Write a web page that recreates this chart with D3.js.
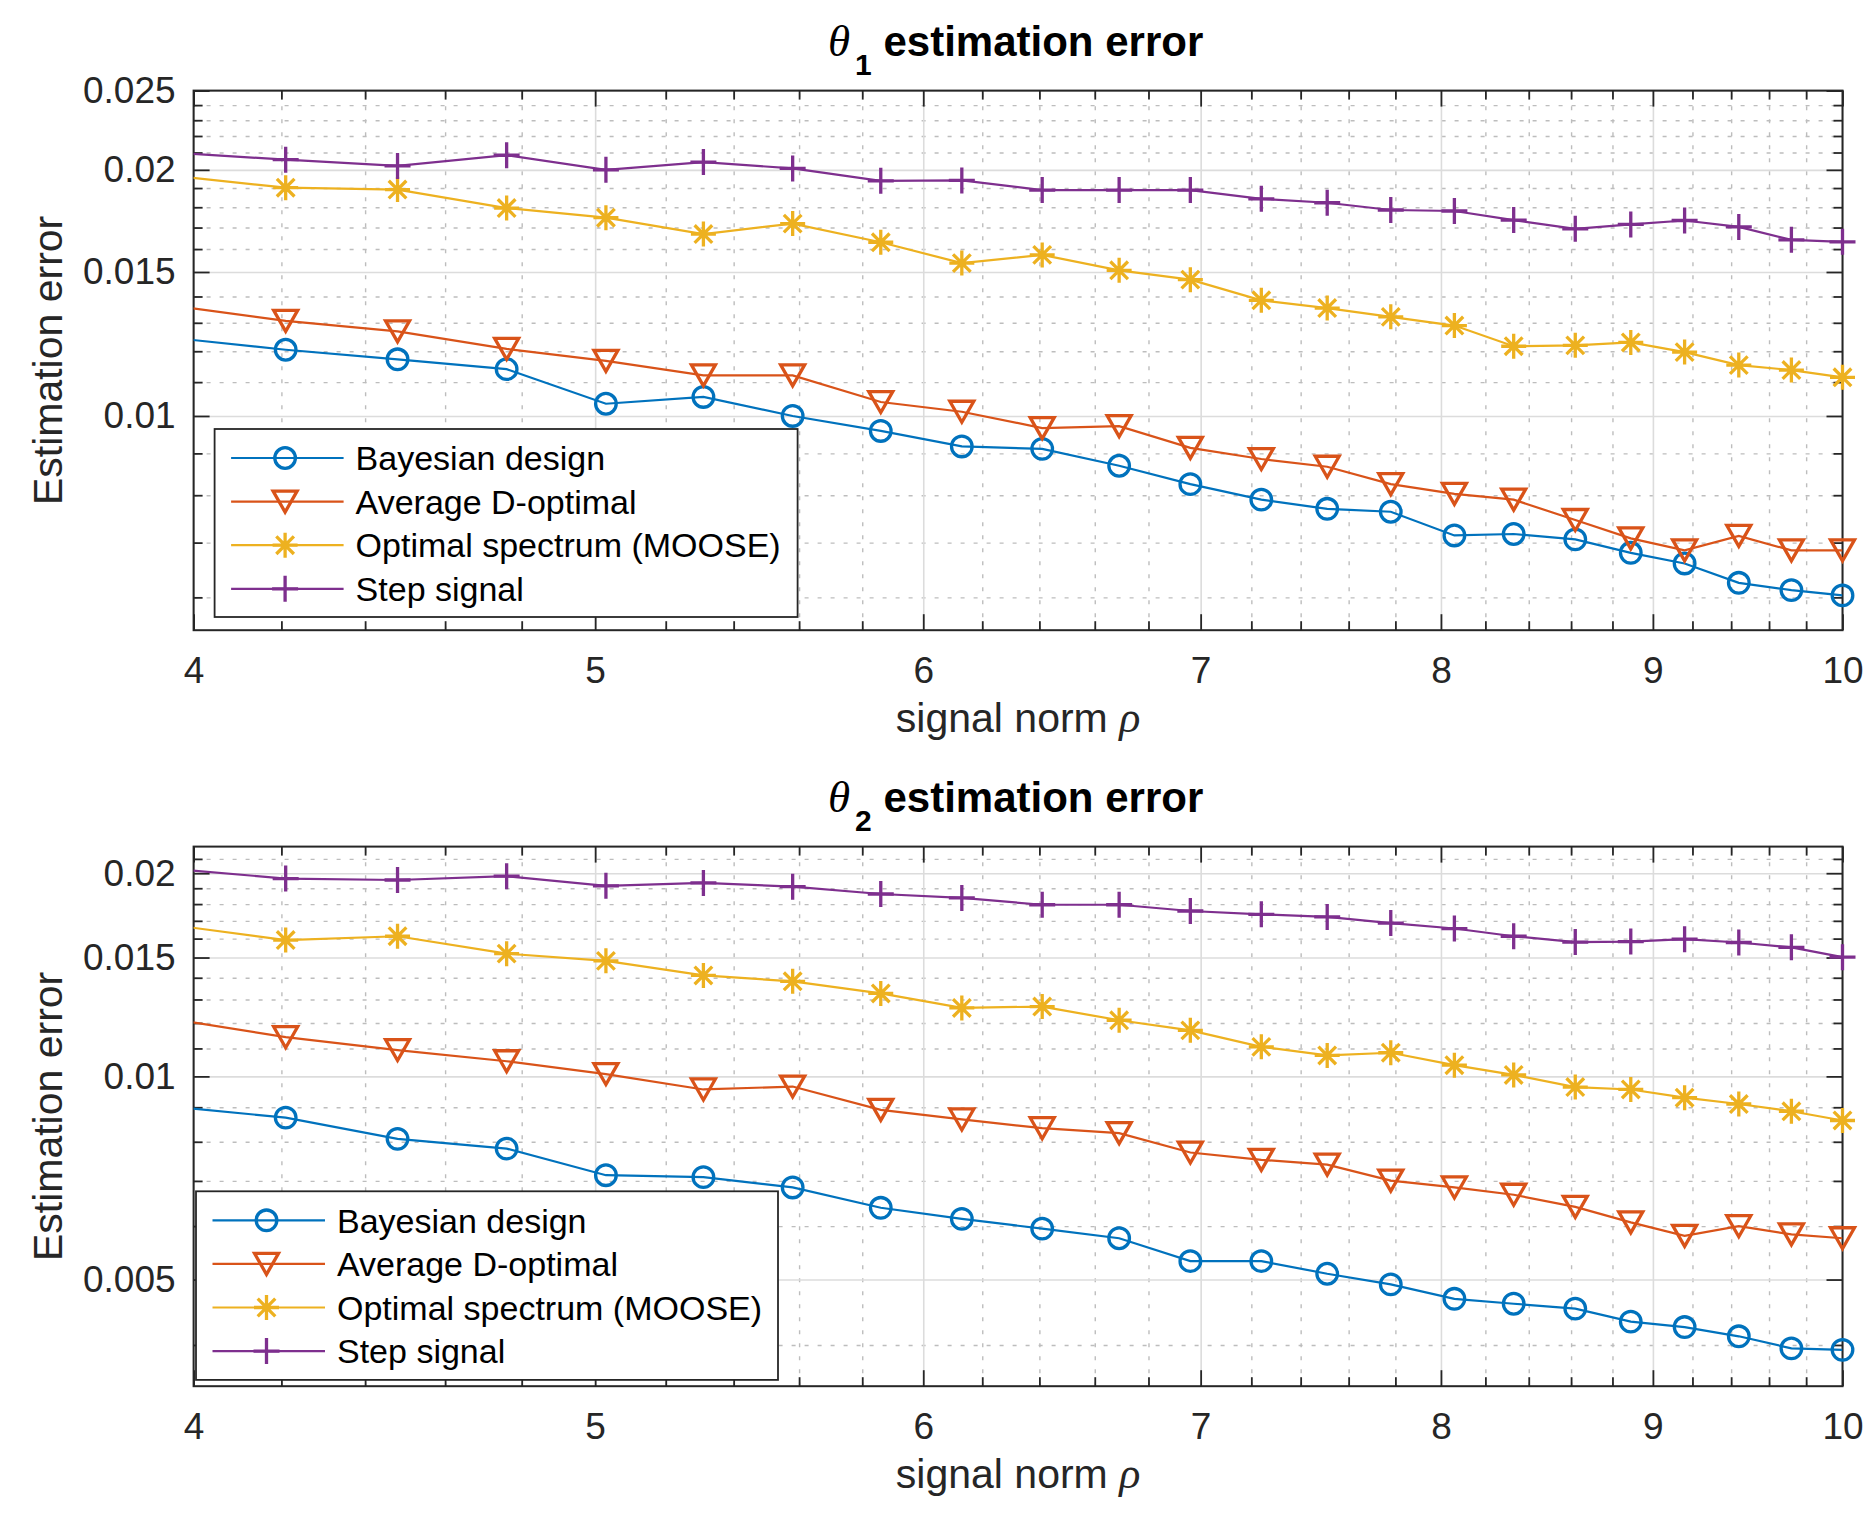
<!DOCTYPE html>
<html>
<head>
<meta charset="utf-8">
<script src="https://cdn.jsdelivr.net/npm/d3@7"></script>
<style>
  body { margin: 0; background: #ffffff; }
  svg text { font-family: "Liberation Sans", Arial, sans-serif; fill: #262626; }
</style>
</head>
<body>
<div id="chart"></div>
<script>
// signal norm values (first one sits just left of the axis and is clipped)
const rho = [3.93, 4.21, 4.48, 4.76, 5.03, 5.31, 5.58, 5.86, 6.13, 6.41, 6.69, 6.96,
             7.24, 7.51, 7.78, 8.06, 8.33, 8.62, 8.89, 9.16, 9.44, 9.72, 10.0];

const seriesNames = ["Bayesian design", "Average D-optimal", "Optimal spectrum (MOOSE)", "Step signal"];

// theta_1 estimation error
const theta1Bayes = [0.01250, 0.01205, 0.01173, 0.01141, 0.01035, 0.01055, 0.01000, 0.009587, 0.009178, 0.009116, 0.008692, 0.008253,
                     0.007900, 0.007699, 0.007636, 0.007143, 0.007172, 0.007065, 0.006802, 0.006601, 0.006251, 0.006124, 0.006033];
const theta1DOpt = [0.01370, 0.01307, 0.01269, 0.01208, 0.01168, 0.01121, 0.01121, 0.01040, 0.01012, 0.009665, 0.009718, 0.009140,
                    0.008858, 0.008667, 0.008253, 0.008029, 0.007900, 0.007460, 0.007085, 0.006848, 0.007133, 0.006848, 0.006848];
const theta1Moose = [0.01973, 0.01902, 0.01892, 0.01796, 0.01748, 0.01669, 0.01719, 0.01631, 0.01538, 0.01574, 0.01507, 0.01468,
                     0.01385, 0.01355, 0.01322, 0.01290, 0.01217, 0.01220, 0.01230, 0.01197, 0.01154, 0.01138, 0.01115];
const theta1Step = [0.02103, 0.02058, 0.02022, 0.02084, 0.02000, 0.02044, 0.02008, 0.01939, 0.01941, 0.01889, 0.01889, 0.01889,
                    0.01843, 0.01823, 0.01786, 0.01781, 0.01736, 0.01694, 0.01715, 0.01734, 0.01703, 0.01642, 0.01633];

// theta_2 estimation error
const theta2Bayes = [0.009047, 0.008688, 0.008081, 0.007816, 0.007138, 0.007091, 0.006846, 0.006387, 0.006149, 0.005948, 0.005757, 0.005324,
                     0.005324, 0.005100, 0.004918, 0.004682, 0.004604, 0.004528, 0.004331, 0.004252, 0.004120, 0.003954, 0.003934];
const theta2DOpt = [0.01223, 0.01143, 0.01094, 0.01053, 0.01008, 0.009563, 0.009659, 0.008922, 0.008633, 0.008379, 0.008240, 0.007712,
                    0.007523, 0.007401, 0.007006, 0.006846, 0.006678, 0.006408, 0.006078, 0.005804, 0.005998, 0.005833, 0.005757];
const theta2Moose = [0.01684, 0.01592, 0.01613, 0.01520, 0.01483, 0.01411, 0.01383, 0.01327, 0.01263, 0.01269, 0.01211, 0.01170,
                     0.01106, 0.01074, 0.01084, 0.01039, 0.01005, 0.009643, 0.009563, 0.009298, 0.009100, 0.008878, 0.008603];
const theta2Step = [0.02036, 0.01964, 0.01954, 0.01980, 0.01916, 0.01935, 0.01910, 0.01863, 0.01838, 0.01796, 0.01796, 0.01758,
                    0.01738, 0.01723, 0.01687, 0.01656, 0.01613, 0.01581, 0.01584, 0.01597, 0.01579, 0.01553, 0.01502];

// ticks
const xTicks = [4, 5, 6, 7, 8, 9, 10];
const xMinorTicks = [4.2, 4.4, 4.6, 4.8, 5.2, 5.4, 5.6, 5.8, 6.2, 6.4, 6.6, 6.8,
                     7.2, 7.4, 7.6, 7.8, 8.2, 8.4, 8.6, 8.8, 9.2, 9.4, 9.6, 9.8];
const yTicksTop = [0.01, 0.015, 0.02, 0.025];
const yMinorTop = [0.006, 0.007, 0.008, 0.009, 0.011, 0.012, 0.013, 0.014,
                   0.016, 0.017, 0.018, 0.019, 0.021, 0.022, 0.023, 0.024];
const yTicksBottom = [0.005, 0.01, 0.015, 0.02];
const yMinorBottom = [0.004, 0.006, 0.007, 0.008, 0.009, 0.011, 0.012, 0.013, 0.014,
                      0.016, 0.017, 0.018, 0.019, 0.021];

const width = 1876;
const height = 1516;
const left = 193.6;
const right = 1842.5;
const colors = ["#0072BD", "#D95319", "#EDB120", "#7E2F8E"];
const markers = ["circle", "triangle", "asterisk", "plus"];

const svg = d3.select("#chart")
  .append("svg")
  .attr("width", width)
  .attr("height", height)
  .style("background-color", "#ffffff");

const xScale = d3.scaleLog()
  .domain([4, 10])
  .range([left, right]);

function markerPath(type) {
  const p = d3.path();
  if (type === "circle") {
    p.moveTo(10.3, 0);
    p.arc(0, 0, 10.3, 0, 2 * Math.PI);
  } else if (type === "triangle") {
    p.moveTo(-12, -10.5);
    p.lineTo(12, -10.5);
    p.lineTo(0, 10.5);
    p.closePath();
  } else if (type === "asterisk") {
    const r = 12.5, d = 8.8;
    p.moveTo(-r, 0); p.lineTo(r, 0);
    p.moveTo(0, -r); p.lineTo(0, r);
    p.moveTo(-d, -d); p.lineTo(d, d);
    p.moveTo(-d, d); p.lineTo(d, -d);
  } else {
    const r = 13;
    p.moveTo(-r, 0); p.lineTo(r, 0);
    p.moveTo(0, -r); p.lineTo(0, r);
  }
  return p.toString();
}

function drawPanel(panel, idx) {
  const top = panel.top, bottom = panel.bottom;
  const yScale = d3.scaleLog()
    .domain(panel.yDomain)
    .range([bottom, top]);
  const g = svg.append("g");
  const plotH = bottom - top;
  const plotW = right - left;

  // minor grid
  g.append("g")
    .attr("class", "grid-minor")
    .attr("transform", `translate(0, ${bottom})`)
    .call(d3.axisBottom(xScale).tickValues(xMinorTicks).tickSize(-plotH).tickFormat(""));
  g.append("g")
    .attr("class", "grid-minor")
    .attr("transform", `translate(${left}, 0)`)
    .call(d3.axisLeft(yScale).tickValues(panel.yMinor).tickSize(-plotW).tickFormat(""));
  g.selectAll(".grid-minor line")
    .attr("stroke", "#bdbdbd")
    .attr("stroke-width", 1.4)
    .attr("stroke-dasharray", "4 9");

  // major grid
  g.append("g")
    .attr("class", "grid-major")
    .attr("transform", `translate(0, ${bottom})`)
    .call(d3.axisBottom(xScale).tickValues(xTicks).tickSize(-plotH).tickFormat(""));
  g.append("g")
    .attr("class", "grid-major")
    .attr("transform", `translate(${left}, 0)`)
    .call(d3.axisLeft(yScale).tickValues(panel.yTicks).tickSize(-plotW).tickFormat(""));
  g.selectAll(".grid-major line")
    .attr("stroke", "#dcdcdc")
    .attr("stroke-width", 1.6);
  g.selectAll(".grid-minor .domain, .grid-major .domain").remove();

  // box
  g.append("rect")
    .attr("x", left)
    .attr("y", top)
    .attr("width", plotW)
    .attr("height", plotH)
    .attr("fill", "none")
    .attr("stroke", "#262626")
    .attr("stroke-width", 2);

  // ticks (inward, all four sides)
  const tickGroups = [
    [d3.axisBottom(xScale).tickValues(xTicks).tickSize(-16).tickPadding(27).tickFormat(d => String(d)), `translate(0, ${bottom})`, true],
    [d3.axisBottom(xScale).tickValues(xMinorTicks).tickSize(-9).tickFormat(""), `translate(0, ${bottom})`, false],
    [d3.axisTop(xScale).tickValues(xTicks).tickSize(-16).tickFormat(""), `translate(0, ${top})`, false],
    [d3.axisTop(xScale).tickValues(xMinorTicks).tickSize(-9).tickFormat(""), `translate(0, ${top})`, false],
    [d3.axisLeft(yScale).tickValues(panel.yTicks).tickSize(-16).tickPadding(18).tickFormat(d => String(d)), `translate(${left}, 0)`, true],
    [d3.axisLeft(yScale).tickValues(panel.yMinor).tickSize(-9).tickFormat(""), `translate(${left}, 0)`, false],
    [d3.axisRight(yScale).tickValues(panel.yTicks).tickSize(-16).tickFormat(""), `translate(${right}, 0)`, false],
    [d3.axisRight(yScale).tickValues(panel.yMinor).tickSize(-9).tickFormat(""), `translate(${right}, 0)`, false]
  ];
  tickGroups.forEach(([axis, tr, labelled]) => {
    const a = g.append("g").attr("transform", tr).call(axis);
    a.select(".domain").remove();
    a.selectAll("line").attr("stroke", "#262626").attr("stroke-width", 1.8);
    if (labelled) {
      a.selectAll("text")
        .attr("fill", "#262626")
        .style("font-size", "37px")
        .style("font-family", '"Liberation Sans", Arial, sans-serif');
    }
  });

  // data
  const clipId = "clip" + idx;
  svg.append("clipPath")
    .attr("id", clipId)
    .append("rect")
    .attr("x", left)
    .attr("y", top)
    .attr("width", plotW)
    .attr("height", plotH);

  const line = d3.line()
    .x(d => xScale(d[0]))
    .y(d => yScale(d[1]));

  panel.series.forEach((vals, i) => {
    const pts = rho.map((r, k) => [r, vals[k]]);
    g.append("path")
      .datum(pts)
      .attr("clip-path", `url(#${clipId})`)
      .attr("fill", "none")
      .attr("stroke", colors[i])
      .attr("stroke-width", 2.2)
      .attr("d", line);
    g.selectAll(null)
      .data(pts.filter(d => d[0] >= 4))
      .enter()
      .append("path")
      .attr("transform", d => `translate(${xScale(d[0])}, ${yScale(d[1])})`)
      .attr("d", markerPath(markers[i]))
      .attr("fill", "none")
      .attr("stroke", colors[i])
      .attr("stroke-width", 3.3);
  });

  // title
  const title = g.append("text")
    .attr("x", 828)
    .attr("y", top - 35)
    .style("font-size", "42px")
    .style("font-weight", "bold")
    .style("fill", "#000000");
  title.append("tspan")
    .style("font-family", '"Liberation Serif", "DejaVu Serif", serif')
    .style("font-style", "italic")
    .style("font-weight", "normal")
    .style("font-size", "45px")
    .text("\u03B8");
  title.append("tspan")
    .attr("dx", 5)
    .attr("dy", 19)
    .style("font-size", "30px")
    .text(panel.sub);
  title.append("tspan")
    .attr("dy", -19)
    .text(" estimation error");

  // x label
  const cx = (left + right) / 2;
  const xl = g.append("text")
    .attr("x", cx)
    .attr("y", bottom + 102)
    .attr("text-anchor", "middle")
    .style("font-size", "41px");
  xl.append("tspan").text("signal norm ");
  xl.append("tspan")
    .style("font-family", '"Liberation Serif", "DejaVu Serif", serif')
    .style("font-style", "italic")
    .style("font-size", "44px")
    .text("\u03C1");

  // y label
  g.append("text")
    .attr("transform", `translate(62, ${(top + bottom) / 2}) rotate(-90)`)
    .attr("text-anchor", "middle")
    .style("font-size", "41px")
    .text("Estimation error");

  // legend
  const lg = panel.legend;
  const leg = g.append("g").attr("transform", `translate(${lg.x}, ${lg.y})`);
  leg.append("rect")
    .attr("width", lg.w)
    .attr("height", lg.h)
    .attr("fill", "#ffffff")
    .attr("stroke", "#262626")
    .attr("stroke-width", 1.8);
  seriesNames.forEach((name, i) => {
    const yy = 29 + i * 43.6;
    leg.append("line")
      .attr("x1", 16.5).attr("x2", 129)
      .attr("y1", yy).attr("y2", yy)
      .attr("stroke", colors[i])
      .attr("stroke-width", 2.2);
    leg.append("path")
      .attr("transform", `translate(70.5, ${yy})`)
      .attr("d", markerPath(markers[i]))
      .attr("fill", "none")
      .attr("stroke", colors[i])
      .attr("stroke-width", 3.3);
    leg.append("text")
      .attr("x", 141)
      .attr("y", yy)
      .attr("dy", "0.36em")
      .style("font-size", "34px")
      .style("fill", "#000000")
      .text(name);
  });
}

const panels = [
  {
    sub: "1", top: 90.6, bottom: 630.2, yDomain: [0.00547, 0.025],
    yTicks: yTicksTop, yMinor: yMinorTop,
    series: [theta1Bayes, theta1DOpt, theta1Moose, theta1Step],
    legend: { x: 214.6, y: 429, w: 583, h: 188 }
  },
  {
    sub: "2", top: 846.6, bottom: 1386.2, yDomain: [0.003475, 0.0219],
    yTicks: yTicksBottom, yMinor: yMinorBottom,
    series: [theta2Bayes, theta2DOpt, theta2Moose, theta2Step],
    legend: { x: 196, y: 1191.3, w: 582, h: 188.6 }
  }
];

panels.forEach((p, i) => drawPanel(p, i));
</script>
</body>
</html>
